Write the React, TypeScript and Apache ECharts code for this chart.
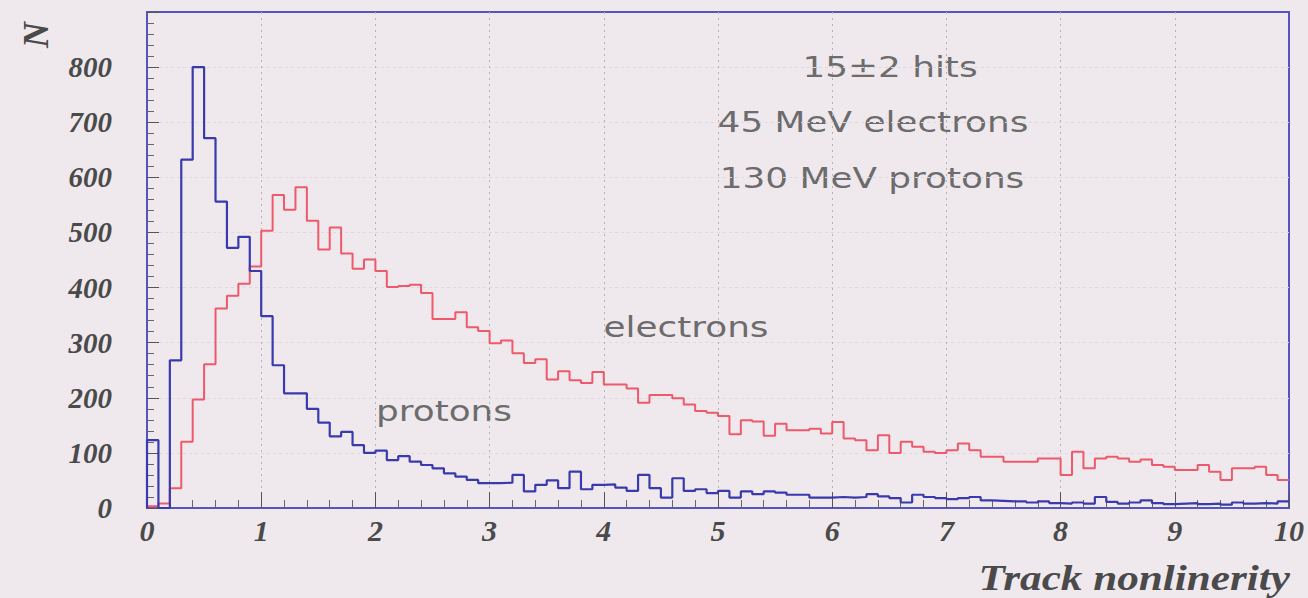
import React, { useEffect, useRef } from "react";
import * as echarts from "echarts";

// Histogram bin width along "Track nonlinerity" (bins start at 0)
const BIN_WIDTH = 0.1;
const X_MIN = 0;
const X_MAX = 10;
const Y_MAX = 900;

// Counts per bin, 100 bins from 0 to 10
const protons = [
  123, 0, 268, 632, 800, 671, 556, 472, 492, 430,
  348, 259, 208, 208, 180, 155, 130, 138, 114, 100,
  104, 87, 94, 84, 78, 72, 63, 57, 51, 45,
  45, 46, 60, 30, 42, 50, 36, 66, 34, 42,
  43, 37, 31, 60, 36, 19, 54, 31, 34, 27,
  31, 19, 30, 25, 30, 28, 24, 24, 19, 19,
  20, 19, 20, 25, 21, 18, 10, 24, 20, 18,
  16, 18, 20, 14, 13, 12, 12, 10, 12, 9,
  8, 10, 8, 20, 11, 8, 10, 14, 9, 7,
  8, 9, 7, 8, 6, 10, 8, 9, 8, 12,
];

const electrons = [
  3, 8, 36, 120, 197, 261, 362, 385, 407, 438,
  503, 568, 541, 582, 521, 469, 509, 462, 434, 451,
  430, 401, 403, 405, 390, 343, 343, 355, 328, 321,
  299, 304, 281, 263, 270, 233, 248, 232, 227, 247,
  224, 224, 217, 191, 205, 205, 199, 188, 176, 173,
  167, 134, 159, 157, 131, 153, 141, 141, 144, 135,
  156, 126, 123, 105, 132, 100, 120, 111, 102, 100,
  105, 117, 105, 93, 93, 84, 84, 84, 90, 90,
  60, 102, 72, 90, 93, 90, 84, 88, 78, 75,
  69, 69, 78, 66, 51, 72, 72, 75, 60, 51,
];

const infoLines = ["15±2 hits", "45 MeV electrons", "130 MeV protons"];
const curveLabels = { electrons: "electrons", protons: "protons" };
const xTitle = "Track nonlinerity";
const yTitle = "N";

const FRAME_BLUE = "#5555c0";
const PROTON_BLUE = "#3a3aae";
const ELECTRON_RED = "#ee5a6c";
const TEXT_GREY = "#6c6c6c";
const LABEL_DARK = "#4a4a4a";
const SERIF = "'Liberation Serif', 'Times New Roman', serif";
const SANS = "'DejaVu Sans', sans-serif";

// Turn bin counts into step points: each bin is [left edge, count],
// closed with the right edge of the last bin.
function toSteps(counts: number[]): [number, number][] {
  const pts: [number, number][] = [[X_MIN, 0]];
  counts.forEach((c, i) => {
    pts.push([Math.round(i * BIN_WIDTH * 1000) / 1000, c]);
  });
  pts.push([X_MAX, counts[counts.length - 1]]);
  return pts;
}

export default function App() {
  const ref = useRef<HTMLDivElement>(null);

  useEffect(() => {
    if (!ref.current) return;
    const chart = echarts.init(ref.current, null, { renderer: "svg" });

    const infoY = [67, 122, 178];
    const infoX = [890, 873, 872];

    const annotation = (text: string, x: number, y: number) => ({
      type: "text",
      x,
      y,
      scaleX: 1.28,
      style: {
        text,
        fill: TEXT_GREY,
        font: `28px ${SANS}`,
        align: "center",
        verticalAlign: "middle",
      },
    });

    chart.setOption({
      animation: false,
      backgroundColor: "#efe9ee",
      grid: {
        left: 147,
        right: 19,
        top: 12,
        bottom: 90,
        show: true,
        borderColor: FRAME_BLUE,
        borderWidth: 2,
        backgroundColor: "transparent",
      },
      xAxis: {
        type: "value",
        min: X_MIN,
        max: X_MAX,
        interval: 1,
        axisLine: { show: true, lineStyle: { color: FRAME_BLUE, width: 2 } },
        axisTick: {
          show: true,
          inside: true,
          length: 16,
          lineStyle: { color: "#555", width: 1 },
        },
        minorTick: {
          show: true,
          splitNumber: 5,
          length: 8,
          lineStyle: { color: "#666", width: 1 },
        },
        axisLabel: {
          margin: 7,
          fontFamily: SERIF,
          fontStyle: "italic",
          fontWeight: "bold",
          fontSize: 30,
          color: LABEL_DARK,
        },
        splitLine: {
          show: true,
          showMinLine: false,
          showMaxLine: false,
          lineStyle: { color: "#b8b2b8", type: [2, 4], width: 1 },
        },
      },
      yAxis: {
        type: "value",
        min: 0,
        max: Y_MAX,
        interval: 100,
        axisLine: { show: true, lineStyle: { color: FRAME_BLUE, width: 2 } },
        axisTick: {
          show: true,
          inside: true,
          length: 12,
          lineStyle: { color: "#555", width: 1 },
        },
        minorTick: {
          show: true,
          splitNumber: 5,
          length: 7,
          lineStyle: { color: "#666", width: 1 },
        },
        axisLabel: {
          margin: 35,
          fontFamily: SERIF,
          fontStyle: "italic",
          fontWeight: "bold",
          fontSize: 29,
          color: LABEL_DARK,
          formatter: (v: number) => (v >= Y_MAX ? "" : String(v)),
        },
        splitLine: {
          show: true,
          showMinLine: false,
          showMaxLine: false,
          lineStyle: { color: "#e0d8e0", type: [3, 3], width: 1 },
        },
      },
      series: [
        {
          name: "electrons",
          type: "line",
          step: "end",
          data: toSteps(electrons),
          showSymbol: false,
          lineStyle: { color: ELECTRON_RED, width: 2 },
          z: 3,
        },
        {
          name: "protons",
          type: "line",
          step: "end",
          data: toSteps(protons),
          showSymbol: false,
          lineStyle: { color: PROTON_BLUE, width: 2.2 },
          z: 4,
        },
      ],
      graphic: [
        ...infoLines.map((t, i) => annotation(t, infoX[i], infoY[i])),
        annotation(curveLabels.electrons, 686, 327),
        annotation(curveLabels.protons, 444, 411),
        {
          type: "text",
          x: 1290,
          y: 578,
          scaleX: 1.2,
          style: {
            text: xTitle,
            fill: LABEL_DARK,
            font: `italic bold 36px ${SERIF}`,
            align: "right",
            verticalAlign: "middle",
          },
        },
        {
          type: "text",
          x: 36,
          y: 35,
          rotation: Math.PI / 2,
          style: {
            text: yTitle,
            fill: LABEL_DARK,
            font: `italic bold 36px ${SERIF}`,
            align: "center",
            verticalAlign: "middle",
          },
        },
      ],
    });

    return () => chart.dispose();
  }, []);

  return (
    <div
      ref={ref}
      style={{ position: "fixed", left: 0, top: 0, width: 1308, height: 598 }}
    />
  );
}
